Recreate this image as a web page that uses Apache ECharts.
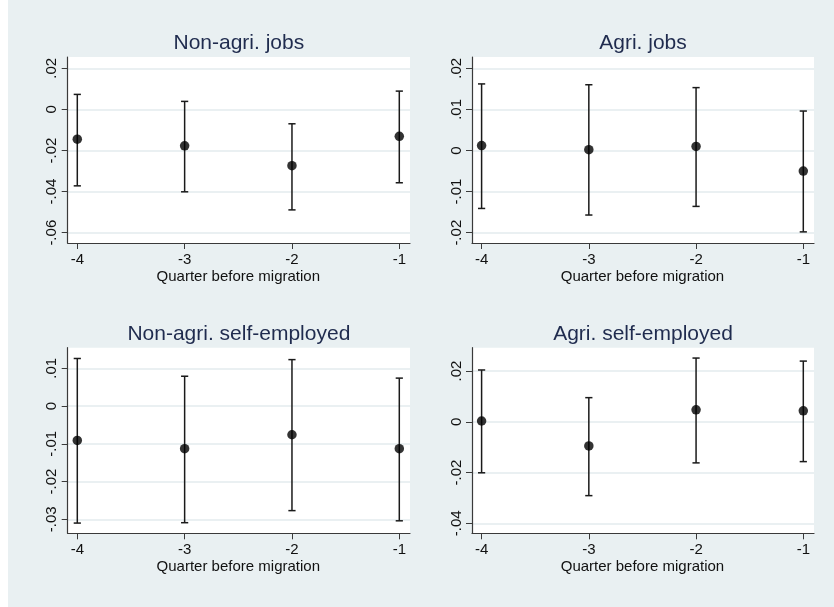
<!DOCTYPE html>
<html>
<head>
<meta charset="utf-8">
<script src="https://cdn.jsdelivr.net/npm/echarts@6/dist/echarts.min.js"></script>
<style>
  html, body { margin: 0; padding: 0; }
  body { width: 834px; height: 607px; background: linear-gradient(to right, #ffffff 8px, #e9f0f2 8px); }
  #chart { width: 834px; height: 607px; }
</style>
</head>
<body>
<div id="chart"></div>
<script>
// ---- data ----
const quarters = [-4, -3, -2, -1];
const xTicks = [-4, -3, -2, -1];
const xAxisTitle = 'Quarter before migration';

const panelTitles = ['Non-agri. jobs', 'Agri. jobs', 'Non-agri. self-employed', 'Agri. self-employed'];

const nonAgriJobsEst = [-0.0145, -0.0177, -0.0274, -0.0131];
const nonAgriJobsLo  = [-0.0372, -0.0401, -0.0489, -0.0357];
const nonAgriJobsHi  = [ 0.0073,  0.0039, -0.0070,  0.0089];
const nonAgriJobsTicks = [-0.06, -0.04, -0.02, 0, 0.02];

const agriJobsEst = [ 0.0012,  0.0002,  0.0010, -0.0050];
const agriJobsLo  = [-0.0141, -0.0157, -0.0136, -0.0198];
const agriJobsHi  = [ 0.0162,  0.0160,  0.0153,  0.0096];
const agriJobsTicks = [-0.02, -0.01, 0, 0.01, 0.02];

const nonAgriSelfEst = [-0.0091, -0.0113, -0.0076, -0.0113];
const nonAgriSelfLo  = [-0.0310, -0.0309, -0.0277, -0.0304];
const nonAgriSelfHi  = [ 0.0126,  0.0079,  0.0123,  0.0074];
const nonAgriSelfTicks = [-0.03, -0.02, -0.01, 0, 0.01];

const agriSelfEst = [ 0.0003, -0.0095,  0.0047,  0.0043];
const agriSelfLo  = [-0.0201, -0.0291, -0.0162, -0.0157];
const agriSelfHi  = [ 0.0204,  0.0095,  0.0251,  0.0239];
const agriSelfTicks = [-0.04, -0.02, 0, 0.02];

// ---- layout (pixels) ----
const panels = [
  { est: nonAgriJobsEst, lo: nonAgriJobsLo, hi: nonAgriJobsHi, ticks: nonAgriJobsTicks,
    L: 67.7, R: 410, T: 57, B: 243, gTop: 68.3, gBot: 232.7, titleY: 43.5 },
  { est: agriJobsEst, lo: agriJobsLo, hi: agriJobsHi, ticks: agriJobsTicks,
    L: 472, R: 814, T: 57, B: 243, gTop: 68.3, gBot: 232.7, titleY: 43.5 },
  { est: nonAgriSelfEst, lo: nonAgriSelfLo, hi: nonAgriSelfHi, ticks: nonAgriSelfTicks,
    L: 67.7, R: 410, T: 347.7, B: 533.3, gTop: 368.3, gBot: 519.3, titleY: 334.2 },
  { est: agriSelfEst, lo: agriSelfLo, hi: agriSelfHi, ticks: agriSelfTicks,
    L: 472, R: 814, T: 347.7, B: 533.3, gTop: 371, gBot: 523.3, titleY: 334.2 }
];
const padL = 9.6, padR = 10.7;
const W = 834, H = 607;
const FONT = "'Liberation Sans', Arial, Helvetica, sans-serif";
const axisColor = '#3a3a3a';
const textColor = '#111111';
const barColor = '#1a1a1a';

function fmt(v) {
  const r = Math.round(v * 1000) / 1000;
  if (Math.abs(r) < 1e-9) return '0';
  const s = Math.abs(r).toFixed(2).replace(/^0/, '');
  return (r < 0 ? '-' : '') + s;
}

function renderErrorBar(params, api) {
  const x = api.value(0), lo = api.value(1), hi = api.value(2);
  const pLo = api.coord([x, lo]);
  const pHi = api.coord([x, hi]);
  const cap = 3.6;
  const st = { stroke: barColor, lineWidth: 1.5 };
  return {
    type: 'group',
    children: [
      { type: 'line', shape: { x1: pLo[0], y1: pLo[1], x2: pHi[0], y2: pHi[1] }, style: st },
      { type: 'line', shape: { x1: pHi[0] - cap, y1: pHi[1], x2: pHi[0] + cap, y2: pHi[1] }, style: st },
      { type: 'line', shape: { x1: pLo[0] - cap, y1: pLo[1], x2: pLo[0] + cap, y2: pLo[1] }, style: st }
    ]
  };
}

const grid = [], xAxis = [], yAxis = [], series = [], graphic = [];

panels.forEach((p, i) => {
  const tMin = p.ticks[0], tMax = p.ticks[p.ticks.length - 1];
  const interval = Math.round((p.ticks[1] - p.ticks[0]) * 1000) / 1000;
  const gA = grid.length;
  // frame grid: white plot region + axis lines
  grid.push({ left: p.L, top: p.T, width: p.R - p.L, height: p.B - p.T,
              show: true, backgroundColor: '#ffffff', borderWidth: 0 });
  xAxis.push({ gridIndex: gA, type: 'value', min: 0, max: 1,
               axisLine: { show: true, onZero: false, lineStyle: { color: axisColor, width: 1.2 } },
               axisTick: { show: false }, axisLabel: { show: false }, splitLine: { show: false } });
  yAxis.push({ gridIndex: gA, type: 'value', min: 0, max: 1,
               axisLine: { show: true, onZero: false, lineStyle: { color: axisColor, width: 1.2 } },
               axisTick: { show: false }, axisLabel: { show: false }, splitLine: { show: false } });
  // y scale grid: full width, gridline range
  const gB = grid.length;
  grid.push({ left: p.L, top: p.gTop, width: p.R - p.L, height: p.gBot - p.gTop });
  xAxis.push({ gridIndex: gB, type: 'value', min: 0, max: 1, show: false });
  yAxis.push({ gridIndex: gB, type: 'value', min: tMin, max: tMax, interval: interval,
               axisLine: { show: false },
               axisTick: { show: true, length: 6, lineStyle: { color: axisColor, width: 1 } },
               axisLabel: { rotate: 90, margin: 8, fontSize: 15, color: textColor, fontFamily: FONT,
                            formatter: fmt },
               splitLine: { show: true, lineStyle: { color: '#e3ebee', width: 1.5 } } });
  // data grid: tick-exact in both directions
  const gC = grid.length;
  grid.push({ left: p.L + padL, top: p.gTop, width: (p.R - padR) - (p.L + padL), height: p.gBot - p.gTop });
  xAxis.push({ gridIndex: gC, type: 'value', min: xTicks[0], max: xTicks[xTicks.length - 1], interval: 1,
               offset: p.B - p.gBot,
               axisLine: { show: false, onZero: false },
               axisTick: { show: true, length: 6, lineStyle: { color: axisColor, width: 1 } },
               axisLabel: { margin: 9, fontSize: 15, color: textColor, fontFamily: FONT,
                            formatter: v => String(v) },
               splitLine: { show: false },
               name: xAxisTitle, nameLocation: 'middle', nameGap: 26,
               nameTextStyle: { fontSize: 15, color: textColor, fontFamily: FONT } });
  yAxis.push({ gridIndex: gC, type: 'value', min: tMin, max: tMax, show: false });

  series.push({
    type: 'custom', xAxisIndex: gC, yAxisIndex: gC, clip: false,
    renderItem: renderErrorBar,
    data: quarters.map((q, k) => [q, p.lo[k], p.hi[k]]),
    silent: true, z: 3
  });
  series.push({
    type: 'scatter', xAxisIndex: gC, yAxisIndex: gC, clip: false,
    symbol: 'circle', symbolSize: 9.5,
    itemStyle: { color: '#000000' },
    data: quarters.map((q, k) => [q, p.est[k]]),
    silent: true, z: 4
  });

  graphic.push({
    type: 'text', x: (p.L + p.R) / 2, y: p.titleY,
    style: { text: panelTitles[i], align: 'center', verticalAlign: 'middle',
             fontSize: 21, fontFamily: FONT, fill: '#1f2b4e' }
  });
});

const chart = echarts.init(document.getElementById('chart'), null, { renderer: 'canvas', width: W, height: H });
chart.setOption({
  backgroundColor: 'transparent',
  animation: false,
  grid, xAxis, yAxis, series, graphic
});
</script>
</body>
</html>
